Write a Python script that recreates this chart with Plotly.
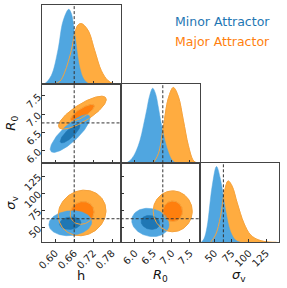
import numpy as np
import plotly.graph_objects as go

# ---------------- data ----------------
param_titles = ["h", "<i>R</i><sub>0</sub>", "<i>σ</i><sub>v</sub>"]
series_names = ["Minor Attractor", "Major Attractor"]
truth = [0.66, 6.76, 63.0]

axis_ranges = [[0.5562, 0.8076], [5.61, 7.77], [28.8, 143.6]]
row_y_ranges = {1: [5.66, 7.82], 2: [28.8, 143.6]}
diag_ymax = [1.058, 1.055, 1.044]

tick_vals = [[0.60, 0.66, 0.72, 0.78], [6.0, 6.5, 7.0, 7.5], [50, 75, 100, 125]]
tick_text = [["0.60", "0.66", "0.72", "0.78"], ["6.0", "6.5", "7.0", "7.5"],
             ["50", "75", "100", "125"]]

# 1D marginals (relative heights)
h_minor_x = [0.560, 0.5663, 0.5873, 0.6086, 0.6244, 0.6425, 0.6508, 0.6616, 0.6775, 0.690, 0.7038, 0.712]
h_minor_y = [0.0, 0.005, 0.115, 0.46, 0.84, 1.0, 0.946, 0.676, 0.226, 0.07, 0.01, 0.0]
h_major_x = [0.598, 0.615, 0.630, 0.6508, 0.6616, 0.672, 0.6826, 0.7038, 0.725, 0.746, 0.767, 0.786]
h_major_y = [0.0, 0.04, 0.16, 0.45, 0.676, 0.79, 0.81, 0.72, 0.45, 0.18, 0.047, 0.0]

r0_minor_x = [5.68, 5.80, 5.91, 6.02, 6.137, 6.23, 6.32, 6.40, 6.483, 6.56, 6.637, 6.705, 6.773, 6.84, 6.91, 7.0, 7.093, 7.15]
r0_minor_y = [0.0, 0.015, 0.06, 0.15, 0.305, 0.5, 0.71, 0.9, 1.0, 0.93, 0.75, 0.56, 0.395, 0.26, 0.148, 0.05, 0.01, 0.0]
r0_major_x = [6.45, 6.50, 6.637, 6.773, 6.91, 7.047, 7.183, 7.32, 7.456, 7.593, 7.70]
r0_major_y = [0.0, 0.01, 0.126, 0.48, 0.866, 1.01, 0.89, 0.574, 0.238, 0.036, 0.0]

sv_minor_x = [31.0, 35.0, 39.4, 46.7, 53.0, 58.8, 66.1, 73.4, 80.6, 88.0]
sv_minor_y = [0.0, 0.05, 0.208, 0.741, 1.0, 0.83, 0.43, 0.14, 0.03, 0.0]
sv_major_x = [44.3, 51.6, 58.8, 64.6, 69.9, 75.7, 83.0, 92.7, 102.4, 114.4, 128.9, 140.0]
sv_major_y = [0.0, 0.097, 0.34, 0.675, 0.81, 0.74, 0.52, 0.253, 0.097, 0.03, 0.003, 0.0]

marg_x = [[h_minor_x, h_major_x], [r0_minor_x, r0_major_x], [sv_minor_x, sv_major_x]]
marg_y = [[h_minor_y, h_major_y], [r0_minor_y, r0_major_y], [sv_minor_y, sv_major_y]]

# 2D contours: (mean x, mean y, sd x, sd y, corr) per series
pair_minor = {(1, 0): [0.647, 6.47, 0.0316, 0.258, 0.82],
              (2, 0): [0.6476, 56.5, 0.034, 9.1, 0.10],
              (2, 1): [6.42, 57.6, 0.255, 10.3, -0.15]}
pair_major = {(1, 0): [0.686, 7.04, 0.0378, 0.224, 0.80],
              (2, 0): [0.685, 71.4, 0.0378, 16.5, 0.10],
              (2, 1): [7.03, 73.8, 0.266, 14.8, 0.0]}
contour_levels = [1.0, 2.0]  # Mahalanobis radii (inner, outer)

# ---------------- styling ----------------
blue_light = "#50a6e0"
blue_dark = "#1f77b4"
orange_light = "#ffac40"
orange_dark = "#ff7f0e"
orange_line = "#f5a23c"
spine = "#444444"
FONT = "DejaVu Sans"

W, H = 287, 288
col_px = [(41.5, 120.7), (120.7, 199.8), (199.8, 279.0)]
row_px = [(5.0, 84.1), (84.1, 163.2), (163.2, 242.3)]


def xdom(c):
    return [col_px[c][0] / W, col_px[c][1] / W]


def ydom(r):
    return [1 - row_px[r][1] / H, 1 - row_px[r][0] / H]


fig = go.Figure()
layout = dict(width=W, height=H, margin=dict(l=0, r=0, t=0, b=0),
              plot_bgcolor="white", paper_bgcolor="white", showlegend=False,
              font=dict(family=FONT, color="#222"))
shapes = []
annotations = []

panels = [(r, c) for r in range(3) for c in range(3) if c <= r]
t = np.linspace(0, 2 * np.pi, 121)


def ellipse(p, rr):
    mx, my, sx, sy, rho = p
    xs = mx + rr * sx * np.cos(t)
    ys = my + rr * sy * (rho * np.cos(t) + np.sqrt(1 - rho ** 2) * np.sin(t))
    return xs, ys


for k, (r, c) in enumerate(panels):
    idx = k + 1
    xa = "x" if idx == 1 else f"x{idx}"
    ya = "y" if idx == 1 else f"y{idx}"
    xkey = "xaxis" if idx == 1 else f"xaxis{idx}"
    ykey = "yaxis" if idx == 1 else f"yaxis{idx}"
    bottom = (r == 2)
    xax = dict(domain=xdom(c), anchor=ya, range=axis_ranges[c], showgrid=False,
               zeroline=False, showline=True, linecolor=spine, linewidth=1.3,
               mirror=True, ticks="inside", ticklen=3, tickcolor="#333",
               tickvals=tick_vals[c], ticktext=tick_text[c], tickangle=-45,
               showticklabels=bottom, automargin=False,
               tickfont=dict(size=10, family=FONT, color="#222"))
    if r == c:
        yax = dict(domain=ydom(r), anchor=xa, range=[0, diag_ymax[c]], showgrid=False,
                   zeroline=False, showline=True, linecolor=spine, linewidth=1.3,
                   mirror=True, ticks="", showticklabels=False, automargin=False)
        mx_, my_ = marg_x[c], marg_y[c]
        fig.add_trace(go.Scatter(x=mx_[1], y=my_[1], mode="lines", fill="tozeroy",
                                 fillcolor=orange_light, line=dict(color=orange_light, width=0.5, shape="spline"),
                                 xaxis=xa, yaxis=ya, hoverinfo="skip"))
        fig.add_trace(go.Scatter(x=mx_[0], y=my_[0], mode="lines", fill="tozeroy",
                                 fillcolor=blue_light, line=dict(color=blue_light, width=0.5, shape="spline"),
                                 xaxis=xa, yaxis=ya, hoverinfo="skip"))
        fig.add_trace(go.Scatter(x=mx_[1], y=my_[1], mode="lines",
                                 line=dict(color=orange_line, width=1, shape="spline"),
                                 xaxis=xa, yaxis=ya, hoverinfo="skip"))
        shapes.append(dict(type="line", xref=xa, yref=f"{ya} domain", x0=truth[c], x1=truth[c],
                           y0=0, y1=1, line=dict(color="#333", width=1, dash="3px,2px"), layer="above"))
    else:
        yax = dict(domain=ydom(r), anchor=xa, range=row_y_ranges[r], showgrid=False,
                   zeroline=False, showline=True, linecolor=spine, linewidth=1.3,
                   mirror=True, ticks="inside", ticklen=3, tickcolor="#333",
                   tickvals=tick_vals[r], ticktext=tick_text[r], tickangle=-45,
                   showticklabels=(c == 0), automargin=False,
                   tickfont=dict(size=10, family=FONT, color="#222"))
        pm, pM = pair_minor[(r, c)], pair_major[(r, c)]
        for p, cols in ((pM, (orange_light, orange_dark)), (pm, (blue_light, blue_dark))):
            for lev, colr in zip(sorted(contour_levels, reverse=True), cols):
                ex, ey = ellipse(p, lev)
                fig.add_trace(go.Scatter(x=ex, y=ey, mode="lines", fill="toself", fillcolor=colr,
                                         line=dict(color=colr, width=0.5), xaxis=xa, yaxis=ya,
                                         hoverinfo="skip"))
        for lev in contour_levels:
            ex, ey = ellipse(pM, lev)
            fig.add_trace(go.Scatter(x=ex, y=ey, mode="lines", line=dict(color=orange_line, width=1),
                                     xaxis=xa, yaxis=ya, hoverinfo="skip"))
        shapes.append(dict(type="line", xref=xa, yref=f"{ya} domain", x0=truth[c], x1=truth[c],
                           y0=0, y1=1, line=dict(color="#333", width=1, dash="3px,2px"), layer="above"))
        shapes.append(dict(type="line", xref=f"{xa} domain", yref=ya, x0=0, x1=1, y0=truth[r],
                           y1=truth[r], line=dict(color="#333", width=1, dash="3px,2px"), layer="above"))
    layout[xkey] = xax
    layout[ykey] = yax

# axis titles
for c in range(3):
    annotations.append(dict(text=param_titles[c], xref="paper", yref="paper",
                            x=(col_px[c][0] + col_px[c][1]) / 2 / W, y=1 - 275 / H,
                            showarrow=False, font=dict(size=13, family=FONT, color="#111"),
                            xanchor="center", yanchor="middle"))
for r in (1, 2):
    annotations.append(dict(text=param_titles[r], xref="paper", yref="paper",
                            x=12 / W, y=1 - (row_px[r][0] + row_px[r][1]) / 2 / H,
                            showarrow=False, textangle=-90,
                            font=dict(size=13, family=FONT, color="#111"),
                            xanchor="center", yanchor="middle"))
# series labels
for name, colr, py in zip(series_names, [blue_dark, orange_dark], [22, 41]):
    annotations.append(dict(text=name, xref="paper", yref="paper", x=222 / W, y=1 - py / H,
                            showarrow=False, font=dict(size=12.5, family=FONT, color=colr),
                            xanchor="center", yanchor="middle"))

layout["shapes"] = shapes
layout["annotations"] = annotations
fig.update_layout(**layout)
fig.write_html("out.html", config={"displayModeBar": False},
               post_script="document.body.style.margin='0';document.body.style.padding='0';"
                           "document.body.style.overflow='hidden';")
